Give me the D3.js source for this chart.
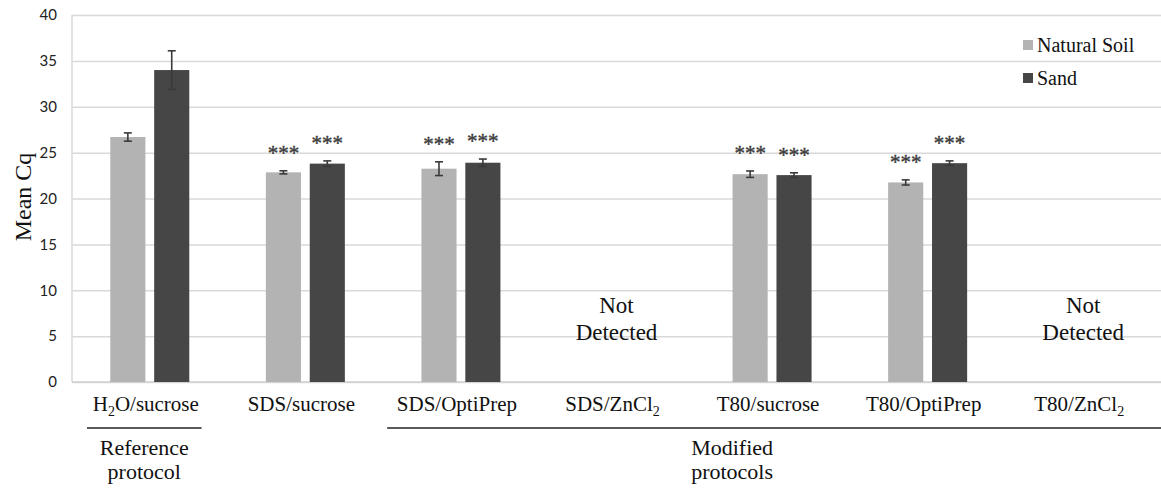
<!DOCTYPE html>
<html>
<head>
<meta charset="utf-8">
<script src="https://cdn.jsdelivr.net/npm/d3@7"></script>
<style>
  html, body { margin: 0; padding: 0; background: #fff; }
  svg { display: block; }
</style>
</head>
<body>
<div id="chart"></div>
<script>
// ---- data ----
const categories = ["H_2O/sucrose", "SDS/sucrose", "SDS/OptiPrep", "SDS/ZnCl_2", "T80/sucrose", "T80/OptiPrep", "T80/ZnCl_2"];
const series = ["Natural Soil", "Sand"];
const soilMean = [26.7, 22.85, 23.25, null, 22.65, 21.75, null];
const soilErr = [0.45, 0.17, 0.75, null, 0.35, 0.28, null];
const sandMean = [34.0, 23.8, 23.9, null, 22.55, 23.85, null];
const sandErr = [2.1, 0.3, 0.4, null, 0.25, 0.25, null];
const soilSig = ["", "***", "***", "", "***", "***", ""];
const sandSig = ["", "***", "***", "", "***", "***", ""];
const yTicks = [0, 5, 10, 15, 20, 25, 30, 35, 40];
const groups = [
  { name: ["Reference", "protocol"], from: 0, to: 0 },
  { name: ["Modified", "protocols"], from: 2, to: 6 }
];

(function () {
  const colors = { "Natural Soil": "#b3b3b3", "Sand": "#464646" };
  const serif = "'Liberation Serif', 'Times New Roman', serif";

  const W = 1161, H = 488;
  const m = { left: 72, right: 1161, top: 15, bottom: 382 };

  const svg = d3.select("#chart").append("svg")
    .attr("width", W).attr("height", H);

  const x = d3.scaleBand().domain(categories).range([m.left, m.right]).padding(0);
  const x1 = d3.scaleBand().domain(series).range([-39.5, 39.5]).paddingInner(0.2);
  const y = d3.scaleLinear().domain([0, 40]).range([m.bottom, m.top]);

  // grid + y axis
  const ya = svg.append("g")
    .attr("transform", `translate(${m.left},0)`)
    .call(d3.axisLeft(y).tickValues(yTicks).tickSize(-(m.right - m.left)).tickPadding(15));
  ya.select(".domain").remove();
  ya.selectAll(".tick line").attr("stroke", "#d9d9d9").attr("stroke-width", 1.5);
  ya.selectAll(".tick text")
    .attr("font-family", "Lato, 'Open Sans', sans-serif")
    .attr("font-size", 15).attr("fill", "#222");

  // left border + baseline
  svg.append("line")
    .attr("x1", m.left).attr("x2", m.left).attr("y1", y(40)).attr("y2", y(0))
    .attr("stroke", "#d9d9d9").attr("stroke-width", 1.5);
  svg.append("line")
    .attr("x1", m.left).attr("x2", m.right).attr("y1", y(0)).attr("y2", y(0))
    .attr("stroke", "#d0d0d0").attr("stroke-width", 1.5);

  // bars
  const rows = [];
  categories.forEach((c, i) => {
    rows.push({ cat: c, s: "Natural Soil", v: soilMean[i], e: soilErr[i], sig: soilSig[i] });
    rows.push({ cat: c, s: "Sand", v: sandMean[i], e: sandErr[i], sig: sandSig[i] });
  });
  const valid = rows.filter(d => d.v != null);
  const cx = d => x(d.cat) + x.bandwidth() / 2 + x1(d.s);

  svg.append("g").selectAll("rect").data(valid).join("rect")
    .attr("x", d => cx(d))
    .attr("width", x1.bandwidth())
    .attr("y", d => y(d.v))
    .attr("height", d => y(0) - y(d.v))
    .attr("fill", d => colors[d.s]);

  // error bars
  const eb = svg.append("g").attr("stroke", "#3a3a3a").attr("stroke-width", 1.6);
  valid.forEach(d => {
    const mx = cx(d) + x1.bandwidth() / 2;
    eb.append("line").attr("x1", mx).attr("x2", mx).attr("y1", y(d.v - d.e)).attr("y2", y(d.v + d.e));
    [d.v - d.e, d.v + d.e].forEach(v => {
      eb.append("line").attr("x1", mx - 4).attr("x2", mx + 4).attr("y1", y(v)).attr("y2", y(v));
    });
  });

  // significance stars
  svg.append("g").selectAll("text").data(valid.filter(d => d.sig)).join("text")
    .attr("x", d => cx(d) + x1.bandwidth() / 2)
    .attr("y", d => y(d.v + d.e) - 11)
    .attr("text-anchor", "middle")
    .attr("font-family", serif)
    .attr("font-size", 21).attr("fill", "#3c3c3c")
    .attr("stroke", "#3c3c3c").attr("stroke-width", 0.4)
    .text(d => d.sig);

  // not detected
  const nd = categories.filter((c, i) => soilMean[i] == null && sandMean[i] == null);
  nd.forEach(c => {
    const cxm = x(c) + x.bandwidth() / 2;
    const t = svg.append("text")
      .attr("text-anchor", "middle")
      .attr("font-family", serif)
      .attr("font-size", 23).attr("fill", "#111");
    t.append("tspan").attr("x", cxm).attr("y", 313).text("Not");
    t.append("tspan").attr("x", cxm).attr("y", 340).text("Detected");
  });

  // category labels
  const xa = svg.append("g")
    .attr("transform", `translate(0,${m.bottom})`)
    .call(d3.axisBottom(x).tickSize(0).tickPadding(0).tickFormat(""));
  xa.select(".domain").remove();
  xa.selectAll(".tick text").each(function (d) {
    const t = d3.select(this)
      .attr("x", -4)
      .attr("y", 29).attr("dy", 0)
      .attr("font-family", serif)
      .attr("font-size", 21).attr("fill", "#111");
    const parts = d.split("_");
    t.append("tspan").text(parts[0]);
    if (parts.length > 1) {
      t.append("tspan").attr("dy", 5).attr("font-size", 14).text(parts[1][0]);
      t.append("tspan").attr("dy", -5).text(parts[1].slice(1));
    }
  });

  // group brackets
  groups.forEach(g => {
    const x0 = g.from === 0 ? x(categories[g.from]) + 15 : x(categories[g.from]) + 4;
    const xe = g.to === categories.length - 1 ? m.right : x(categories[g.to]) + x.bandwidth() - 26;
    svg.append("line")
      .attr("x1", x0).attr("x2", xe).attr("y1", 428).attr("y2", 428)
      .attr("stroke", "#222").attr("stroke-width", 1.5);
    const mid = g.from === 0 ? (x0 + xe) / 2 : x(categories[4]) + x.bandwidth() / 2 - 40;
    const t = svg.append("text")
      .attr("text-anchor", "middle")
      .attr("font-family", serif)
      .attr("font-size", 22).attr("fill", "#111");
    t.append("tspan").attr("x", mid).attr("y", 455).text(g.name[0]);
    t.append("tspan").attr("x", mid).attr("y", 479).text(g.name[1]);
  });

  // y title
  svg.append("text")
    .attr("transform", "translate(31,197) rotate(-90)")
    .attr("text-anchor", "middle")
    .attr("font-family", serif)
    .attr("font-size", 24).attr("fill", "#111")
    .text("Mean Cq");

  // legend
  const lg = svg.append("g").attr("transform", "translate(1023,40)");
  series.forEach((s, i) => {
    const r = lg.append("g").attr("transform", `translate(0,${i * 33})`);
    r.append("rect").attr("width", 10).attr("height", 10).attr("fill", colors[s]);
    r.append("text").attr("x", 14).attr("y", 12)
      .attr("font-family", serif)
      .attr("font-size", 20).attr("fill", "#111").text(s);
  });
})();
</script>
</body>
</html>
